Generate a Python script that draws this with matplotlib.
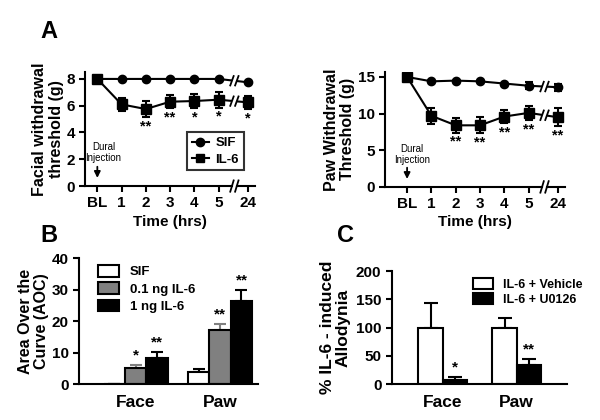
import numpy as np
import matplotlib
matplotlib.use("Agg")
import matplotlib.pyplot as plt
from matplotlib.lines import Line2D

plt.rcParams['font.family'] = ['Liberation Sans', 'DejaVu Sans']
plt.rcParams['font.weight'] = 'bold'
plt.rcParams['axes.labelweight'] = 'bold'

# ---- data ----
time_labels = ["BL", "1", "2", "3", "4", "5", "24"]
time_pos = [0, 1, 2, 3, 4, 5, 6.2]

face_sif = [8, 8, 8, 8, 8, 8, 7.75]
face_sif_err = [0, 0, 0, 0, 0, 0, 0]
face_il6 = [8, 6.1, 5.75, 6.3, 6.35, 6.45, 6.25]
face_il6_err = [0, 0.5, 0.6, 0.5, 0.55, 0.6, 0.5]
face_stars = ["", "", "**", "**", "*", "*", "*"]

paw_sif = [15, 14.4, 14.5, 14.4, 14.1, 13.8, 13.6]
paw_sif_err = [0, 0, 0, 0, 0, 0.45, 0.45]
paw_il6 = [15, 9.7, 8.4, 8.4, 9.6, 10.1, 9.5]
paw_il6_err = [0, 1.1, 1.0, 1.1, 0.9, 1.0, 1.2]
paw_stars = ["", "", "**", "**", "**", "**", "**"]

aoc_groups = ["Face", "Paw"]
aoc_names = ["SIF", "0.1 ng IL-6", "1 ng IL-6"]
aoc_vals = [[0, 3.7], [5.2, 17.0], [8.2, 26.3]]
aoc_err = [[0, 1.2], [0.9, 2.2], [2.0, 3.5]]
aoc_stars = [["", ""], ["*", "**"], ["**", "**"]]
aoc_colors = ["white", "#808080", "black"]

allo_names = ["IL-6 + Vehicle", "IL-6 + U0126"]
allo_vals = [[100, 100], [7, 33]]
allo_err = [[44, 16], [5, 11]]
allo_stars = [["", ""], ["*", "**"]]
allo_colors = ["white", "black"]

fig = plt.figure(figsize=(6, 4.2), dpi=100)


def style(ax, lw=1.5):
    for s in ["top", "right"]:
        ax.spines[s].set_visible(False)
    for s in ["left", "bottom"]:
        ax.spines[s].set_linewidth(lw)
    ax.tick_params(direction='out', length=4, width=lw, labelsize=11)
    for t in ax.get_xticklabels() + ax.get_yticklabels():
        t.set_fontweight('bold')


def slash(ax, x, y, dx, dy):
    for xx in (x - 0.1, x + 0.1):
        ax.plot([xx - dx, xx + dx], [y - dy, y + dy], color='black', lw=1.3,
                clip_on=False, zorder=5)


def time_panel(ax, sif, sif_err, il6, il6_err, stars, ylim, yticks, ylabel,
               xmin, dy, star_gap, inj_y, arrow_y, inj_x):
    brk = 5.65
    ax.set_xlim(xmin, 6.5)
    ax.set_ylim(*ylim)
    ax.plot(time_pos, sif, color='black', lw=1.5, zorder=2)
    ax.plot(time_pos, il6, color='black', lw=1.5, zorder=2)
    ax.axvspan(brk - 0.1, brk + 0.1, color='white', zorder=2.5, lw=0)
    ax.errorbar(time_pos, sif, yerr=sif_err, fmt='o', color='black', ms=6,
                capsize=3, elinewidth=1.5, capthick=1.5, zorder=3)
    ax.errorbar(time_pos, il6, yerr=il6_err, fmt='s', color='black', ms=7,
                capsize=3, elinewidth=1.5, capthick=1.5, zorder=3)
    for series in (sif, il6):
        slash(ax, brk, np.interp(brk, time_pos, series), 0.07, dy)
    # broken x axis
    ax.spines['bottom'].set_visible(False)
    ax.plot([xmin, brk - 0.1], [0, 0], color='black', lw=1.5, clip_on=False,
            zorder=5)
    ax.plot([brk + 0.1, 6.5], [0, 0], color='black', lw=1.5, clip_on=False,
            zorder=5)
    slash(ax, brk, 0, 0.07, dy * 1.2)
    for x, y, e, s in zip(time_pos, il6, il6_err, stars):
        if s:
            ax.text(x, y - e - star_gap, s, ha='center', va='top',
                    fontsize=10.5, fontweight='bold')
    ax.text(inj_x, inj_y, "Dural\nInjection", ha='center', va='center',
            fontsize=7, fontweight='normal', linespacing=1.2)
    ax.annotate("", xy=(0, arrow_y[1]), xytext=(0, arrow_y[0]),
                arrowprops=dict(arrowstyle='-|>', color='black', lw=1.3,
                                mutation_scale=9))
    ax.set_xticks(time_pos)
    ax.set_xticklabels(time_labels)
    ax.set_yticks(yticks)
    ax.set_ylabel(ylabel, fontsize=11.5, fontweight='bold', linespacing=1.1,
                  labelpad=2)
    ax.set_xlabel("Time (hrs)", fontsize=11, fontweight='bold', labelpad=3)
    style(ax)


# ---- Panel A left ----
axA1 = fig.add_axes([0.142, 0.557, 0.283, 0.271])
time_panel(axA1, face_sif, face_sif_err, face_il6, face_il6_err, face_stars,
           (0, 8.5), [0, 2, 4, 6, 8], "Facial withdrawal\nthreshold (g)",
           -0.5, 0.35, 0.15, 2.5, (1.65, 0.4), 0.25)
leg_handles = [
    Line2D([], [], color='black', marker='o', ms=6, lw=1.5, label='SIF'),
    Line2D([], [], color='black', marker='s', ms=6, lw=1.5, label='IL-6'),
]
leg = axA1.legend(handles=leg_handles, loc='lower left',
                  bbox_to_anchor=(0.6, 0.14), borderaxespad=0, frameon=True,
                  fancybox=False, edgecolor='black',
                  prop={'weight': 'bold', 'size': 9.5}, handlelength=1.3,
                  handletextpad=0.5, borderpad=0.35, labelspacing=0.3)
leg.get_frame().set_linewidth(1.5)

# ---- Panel A right ----
axA2 = fig.add_axes([0.642, 0.555, 0.30, 0.274])
time_panel(axA2, paw_sif, paw_sif_err, paw_il6, paw_il6_err, paw_stars,
           (0, 15.7), [0, 5, 10, 15], "Paw Withdrawal\nThreshold (g)",
           -0.9, 0.65, 0.3, 4.4, (3.0, 0.7), 0.2)

# ---- Panel B ----
axB = fig.add_axes([0.132, 0.0857, 0.298, 0.30])
bw = 0.254
xg = np.arange(len(aoc_groups))
for i in range(3):
    xs = xg + (i - 1) * bw
    axB.bar(xs, aoc_vals[i], bw, color=aoc_colors[i], edgecolor='black',
            lw=1.5, label=aoc_names[i], zorder=2)
    axB.errorbar(xs, aoc_vals[i], yerr=[np.zeros(2), aoc_err[i]], fmt='none',
                 ecolor='black' if i != 1 else '#808080', capsize=4,
                 elinewidth=1.5, capthick=1.5, zorder=1)
    for x, v, e, s in zip(xs, aoc_vals[i], aoc_err[i], aoc_stars[i]):
        if s:
            axB.text(x, v + e + 0.8, s, ha='center', va='bottom',
                     fontsize=11, fontweight='bold')
axB.set_xlim(-0.67, 1.45)
axB.set_ylim(0, 40)
axB.set_yticks([0, 10, 20, 30, 40])
axB.set_xticks(xg)
axB.set_xticklabels(aoc_groups)
axB.set_ylabel("Area Over the\nCurve (AOC)", fontsize=11.5, fontweight='bold',
               linespacing=1.1, labelpad=2)
style(axB)
axB.tick_params(axis='x', length=0, labelsize=12.5, pad=8)
for t in axB.get_xticklabels():
    t.set_fontweight('bold')
axB.legend(loc='upper left', bbox_to_anchor=(0.04, 1.04), frameon=False,
           prop={'weight': 'bold', 'size': 9.5}, handlelength=1.6,
           handleheight=1.0, labelspacing=0.3)

# ---- Panel C ----
axC = fig.add_axes([0.653, 0.0857, 0.292, 0.269])
bw = 0.33
for i in range(2):
    xs = xg + (i - 0.5) * bw
    axC.bar(xs, allo_vals[i], bw, color=allo_colors[i], edgecolor='black',
            lw=1.5, label=allo_names[i], zorder=2)
    axC.errorbar(xs, allo_vals[i], yerr=[np.zeros(2), allo_err[i]],
                 fmt='none', ecolor='black', capsize=5, elinewidth=1.5,
                 capthick=1.5, zorder=1)
    for x, v, e, s in zip(xs, allo_vals[i], allo_err[i], allo_stars[i]):
        if s:
            axC.text(x, v + e + 5, s, ha='center', va='bottom', fontsize=11,
                     fontweight='bold')
axC.set_xlim(-0.69, 1.68)
axC.set_ylim(0, 200)
axC.set_yticks([0, 50, 100, 150, 200])
axC.set_xticks(xg)
axC.set_xticklabels(aoc_groups)
axC.set_ylabel("% IL-6 - induced\nAllodynia", fontsize=12.5, fontweight='bold',
               linespacing=1.05, labelpad=4)
style(axC)
axC.tick_params(axis='x', length=0, labelsize=12.5, pad=8)
for t in axC.get_xticklabels():
    t.set_fontweight('bold')
axC.legend(loc='upper left', bbox_to_anchor=(0.4, 1.04), frameon=False,
           prop={'weight': 'bold', 'size': 9}, handlelength=1.6,
           handleheight=1.0, labelspacing=0.2)

# panel letters
fig.text(0.067, 0.925, "A", fontsize=17, fontweight='bold', va='center')
fig.text(0.067, 0.44, "B", fontsize=17, fontweight='bold', va='center')
fig.text(0.562, 0.44, "C", fontsize=17, fontweight='bold', va='center')

fig.savefig("out.png", dpi=100)
